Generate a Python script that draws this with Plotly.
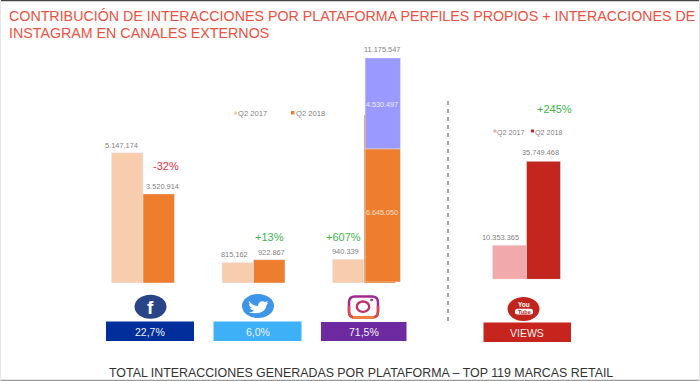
import plotly.graph_objects as go

W, H = 700, 381

platforms = ["Facebook", "Twitter", "Instagram"]
q2_2017 = [5147174, 815162, 940339]
q2_2018 = [3520914, 922867, 6645050]
q2_2017_labels = ["5.147.174", "815.162", "940.339"]
q2_2018_labels = ["3.520.914", "922.867"]

ig_own = [6645050]
ig_external = [4530497]
ig_total = [11175547]
ig_labels = ["6.645.050", "4.530.497", "11.175.547"]

yt_category = ["YouTube"]
yt_2017 = [10353365]
yt_2018 = [35749468]
yt_labels = ["10.353.365", "35.749.468"]

changes = ["-32%", "+13%", "+607%", "+245%"]
shares = ["22,7%", "6,0%", "71,5%", "VIEWS"]

title_lines = ["CONTRIBUCIÓN DE INTERACCIONES POR PLATAFORMA PERFILES PROPIOS + INTERACCIONES DE",
               "INSTAGRAM EN CANALES EXTERNOS"]
footer = "TOTAL INTERACCIONES GENERADAS POR PLATAFORMA – TOP 119 MARCAS RETAIL"

FONT = "Liberation Sans"
GREY = "#7f7f7f"
PEACH, ORANGE = "#f8cdae", "#ee7d2e"
PINK, RED = "#f2a9ab", "#c3261e"
GREEN, NEG = "#3fb54a", "#e5303a"


def px(x):
    return x / W


def py(y):
    return 1 - y / H


fig = go.Figure()
fig.add_bar(x=platforms, y=q2_2017, name="Q2 2017", marker_color=PEACH, xaxis="x", yaxis="y")
fig.add_bar(x=platforms, y=q2_2018, name="Q2 2018", marker_color=ORANGE, xaxis="x", yaxis="y")

# Instagram stack drawn over the own-profile bar, on its own scale
fig.add_bar(x=["Instagram"], y=ig_own, name="Perfiles propios", marker_color=ORANGE,
            width=[0.32], offset=[0.01], xaxis="x2", yaxis="y2")
fig.add_bar(x=["Instagram"], y=ig_external, base=ig_own, name="Canales externos", marker_color="#9999ff",
            width=[0.32], offset=[0.01], xaxis="x2", yaxis="y2")

fig.add_bar(x=yt_category, y=yt_2017, name="Q2 2017", marker_color=PINK, xaxis="x3", yaxis="y3")
fig.add_bar(x=yt_category, y=yt_2018, name="Q2 2018", marker_color=RED, xaxis="x3", yaxis="y3")

# axes: baseline pixel and scale chosen per panel
TOP = 40
base1, scale1 = 283, 25.3
base2, scale2 = 282, 20.05
base3, scale3 = 279.3, 3.3
hidden = dict(visible=False, fixedrange=True)
layout_axes = dict(
    xaxis=dict(domain=[px(87.75), px(419.25)], categoryorder="array", categoryarray=platforms, range=[-0.5, 2.5],
               anchor="y", **hidden),
    xaxis2=dict(domain=[px(87.75), px(419.25)], categoryorder="array", categoryarray=platforms, range=[-0.5, 2.5],
                anchor="y2", **hidden),
    xaxis3=dict(domain=[px(466.85), px(586.15)], range=[-0.5, 0.5], anchor="y3", **hidden),
    yaxis=dict(domain=[py(base1), py(TOP)], range=[0, (base1 - TOP) / scale1 * 1e6], anchor="x", **hidden),
    yaxis2=dict(domain=[py(base2), py(TOP)], range=[0, (base2 - TOP) / scale2 * 1e6], anchor="x2", **hidden),
    yaxis3=dict(domain=[py(base3), py(TOP)], range=[0, (base3 - TOP) / scale3 * 1e6], anchor="x3", **hidden),
)

ann = []


def data_label(text, x, y, xref, yref, xshift, color=GREY, yshift=0, size=7.4, anchor="bottom"):
    ann.append(dict(text=text, x=x, y=y, xref=xref, yref=yref, xshift=xshift, yshift=yshift, showarrow=False,
                    yanchor=anchor, font=dict(family=FONT, size=size, color=color)))


def page_text(text, x, y, size, color, xanchor="center", family=FONT):
    ann.append(dict(text=text, x=px(x), y=py(y), xref="paper", yref="paper", showarrow=False, xanchor=xanchor,
                    yanchor="middle", xshift=0, font=dict(family=family, size=size, color=color), borderpad=0))


for name, v, t, dx in zip(platforms, q2_2017, q2_2017_labels, [-21.5, -19.5, -19]):
    data_label(t, name, v, "x", "y", dx, yshift=1)
for name, v, t, dx in zip(platforms, q2_2018, q2_2018_labels, [19, 17.5]):
    data_label(t, name, v, "x", "y", dx, yshift=1)

data_label(ig_labels[0], "Instagram", ig_own[0] / 2, "x2", "y2", 18, color="#fbe3d0", anchor="middle", size=7.2, yshift=2.5)
data_label(ig_labels[1], "Instagram", ig_own[0] + ig_external[0] / 2, "x2", "y2", 18, color="#ececff", anchor="middle",
           size=7.2, yshift=-1.5)
data_label(ig_labels[2], "Instagram", ig_total[0], "x2", "y2", 18, yshift=1.5)
data_label(yt_labels[0], "YouTube", yt_2017[0], "x3", "y3", -26.5, yshift=1)
data_label(yt_labels[1], "YouTube", yt_2018[0], "x3", "y3", 14, yshift=2)

page_text(title_lines[0], 8, 16, 14.25, "#ee4f3f", "left")
page_text(title_lines[1], 8, 33, 14.25, "#ee4f3f", "left")
page_text(footer, 361, 373, 12.4, "#333333")

for text, x, y, c in zip(changes, [166, 269.5, 343.5, 554.5], [166, 237, 237, 109], [NEG, GREEN, GREEN, GREEN]):
    page_text(text, x, y, 11, c)

for text, x in [("Q2 2017", 252.8), ("Q2 2018", 310.5)]:
    page_text(text, x, 113.5, 7.6, GREY)
for text, x in [("Q2 2017", 511), ("Q2 2018", 549)]:
    page_text(text, x, 132, 7.2, GREY)

shapes = []


def rect(x0, y0, x1, y1, color, layer="above"):
    shapes.append(dict(type="rect", xref="paper", yref="paper", x0=px(x0), x1=px(x1), y0=py(y0), y1=py(y1),
                       fillcolor=color, line_width=0, layer=layer))


def ellipse(cx, cy, rx, ry, color, line=None, lw=0):
    shapes.append(dict(type="circle", xref="paper", yref="paper", x0=px(cx - rx), x1=px(cx + rx), y0=py(cy + ry),
                       y1=py(cy - ry), fillcolor=color, line=dict(color=line or color, width=lw)))


def to_paper_path(path):
    out, is_x = [], True
    for tok in path.split():
        if tok.isalpha():
            out.append(tok)
            is_x = True
        else:
            out.append(f"{px(float(tok)):.5f}" if is_x else f"{py(float(tok)):.5f}")
            is_x = not is_x
    return " ".join(out)


def path_shape(path, fill, line=None, lw=0):
    shapes.append(dict(type="path", xref="paper", yref="paper", path=to_paper_path(path), fillcolor=fill,
                       line=dict(color=line or fill, width=lw)))


def rounded(x0, y0, x1, y1, r):
    return (f"M {x0 + r} {y0} L {x1 - r} {y0} Q {x1} {y0} {x1} {y0 + r} L {x1} {y1 - r} Q {x1} {y1} {x1 - r} {y1} "
            f"L {x0 + r} {y1} Q {x0} {y1} {x0} {y1 - r} L {x0} {y0 + r} Q {x0} {y0} {x0 + r} {y0} Z")


# legend swatches
rect(233.7, 111.5, 237, 114.5, PEACH)
rect(291, 111, 294.5, 114.5, ORANGE)
rect(493.5, 129.5, 496.5, 132.5, PINK)
rect(531, 129.5, 534, 132.5, RED)

# platform boxes
boxes = [(106, 321.5, 194, 341, "#002e9b"), (213.5, 321.5, 301.5, 341, "#3db0f7"),
         (321, 322, 406.5, 341, "#6e2aa0"), (483.5, 322.5, 571, 342, "#c6241d")]
for (x0, y0, x1, y1, c), t in zip(boxes, shares):
    rect(x0, y0, x1, y1, c)
    page_text(t, (x0 + x1) / 2, (y0 + y1) / 2 + 0.5, 10.5, "#f2f2f2")

# icons
ellipse(150.5, 306.7, 16, 12, "#2a4488")
page_text("<b>f</b>", 150.5, 307.5, 19, "white")
ellipse(258, 306, 16, 12, "#3d96e8")
bird = ("M 249 301 C 252 305 255 306 258 306 C 258 302 262 300 265 302 L 268 301 L 266.5 303.5 L 268.5 303 L 266.5 305 "
        "C 266 311 260 315 248.5 312.5 C 251 312.5 253 311.5 254 310.5 C 251.5 310 250.5 309 250 308 L 252 308 "
        "C 250 307 249 305.5 249 304 L 251 304.5 C 249 303.5 248.5 302.5 249 301 Z")
path_shape(bird, "white")

# instagram glyph: purple top, red sides, orange bottom
path_shape(rounded(349, 296.5, 378, 317.5, 6), "white", "#a02a90", 2.5)
shapes.append(dict(type="path", xref="paper", yref="paper",
                   path=to_paper_path("M 349 306 L 349 311.5 Q 349 317.5 355 317.5 L 372 317.5 Q 378 317.5 378 311.5 L 378 306"),
                   line=dict(color="#dc4a4a", width=2.5)))
shapes.append(dict(type="path", xref="paper", yref="paper",
                   path=to_paper_path("M 353 317.5 L 374 317.5"), line=dict(color="#ef8a3a", width=2.5)))
ellipse(363, 306.7, 6.2, 5.2, "white", "#c0306a", 2.4)
ellipse(371.7, 300, 1.5, 1.3, "#a8307c")

# youtube glyph
ellipse(523.5, 309, 16, 12, "#c0241c")
page_text("<b>You</b>", 523.5, 304, 6.5, "white")
path_shape(rounded(515, 308.8, 533, 314.5, 2.5), "white")
page_text("<b>Tube</b>", 524, 311.7, 5.5, "#c0241c")

# separator
shapes.append(dict(type="line", xref="paper", yref="paper", x0=px(448), x1=px(448), y0=py(101), y1=py(323),
                   line=dict(color="#8a8a8a", width=1.5, dash="4px,4px")))

# page frame
rect(0, 0, 700, 1.2, "#444444")
rect(0, 379.7, 700, 381, "#9a9a9a")
rect(0, 0, 1, 381, "#e6e6e6")
rect(699, 0, 700, 381, "#e6e6e6")

fig.update_layout(width=W, height=H, margin=dict(l=0, r=0, t=0, b=0), barmode="group", bargap=0.43, bargroupgap=0,
                  paper_bgcolor="white", plot_bgcolor="rgba(0,0,0,0)", showlegend=False, annotations=ann,
                  shapes=shapes, **layout_axes)
fig.write_html("out.html", config={"displayModeBar": False},
               post_script="document.body.style.margin='0';document.body.style.overflow='hidden';")
